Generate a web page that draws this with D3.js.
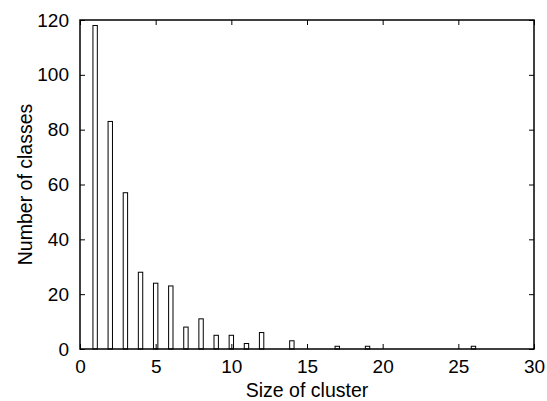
<!DOCTYPE html>
<html>
<head>
<meta charset="utf-8">
<script src="https://cdn.jsdelivr.net/npm/d3@7"></script>
<style>
  body { margin: 0; background: #fff; }
  text { font-family: "Liberation Sans", Arial, sans-serif; }
</style>
</head>
<body>
<script>
// cluster sizes and how many classes have each size
const sizes  = [1, 2, 3, 4, 5, 6, 7, 8, 9, 10, 11, 12, 14, 17, 19, 26];
const counts = [118, 83, 57, 28, 24, 23, 8, 11, 5, 5, 2, 6, 3, 1, 1, 1];
const xTicks = [0, 5, 10, 15, 20, 25, 30];
const yTicks = [0, 20, 40, 60, 80, 100, 120];

const width = 547, height = 401;
const margin = { left: 80, right: 13, top: 20, bottom: 52 };

const svg = d3.select("body").append("svg")
  .attr("width", width).attr("height", height);

const x = d3.scaleLinear().domain([0, 30])
  .range([margin.left, width - margin.right]);
const y = d3.scaleLinear().domain([0, 120])
  .range([height - margin.bottom, margin.top]);

const barW = 0.29; // in x units

// bars
svg.append("g").selectAll("rect")
  .data(sizes)
  .enter().append("rect")
  .attr("x", (d) => x(d - barW / 2))
  .attr("y", (d, i) => y(counts[i]))
  .attr("width", (d) => x(d + barW / 2) - x(d - barW / 2))
  .attr("height", (d, i) => y(0) - y(counts[i]))
  .attr("fill", "#fff")
  .attr("stroke", "#000")
  .attr("stroke-width", 1);

// axes, ticks pointing inward, mirrored on opposite sides
const tickLen = 5;
const styleAxis = (g) => {
  g.select(".domain").remove();
  g.selectAll("line").attr("stroke", "#000").attr("stroke-width", 1);
  g.selectAll("text").attr("font-size", 19).attr("fill", "#000");
};

svg.append("g")
  .attr("transform", "translate(0," + y(0) + ")")
  .call(d3.axisBottom(x).tickValues(xTicks).tickSizeInner(-tickLen).tickPadding(11))
  .call(styleAxis);

svg.append("g")
  .attr("transform", "translate(0," + y(120) + ")")
  .call(d3.axisTop(x).tickValues(xTicks).tickSizeInner(-tickLen).tickFormat(""))
  .call(styleAxis);

svg.append("g")
  .attr("transform", "translate(" + x(0) + ",0)")
  .call(d3.axisLeft(y).tickValues(yTicks).tickSizeInner(-tickLen).tickPadding(11))
  .call(styleAxis);

svg.append("g")
  .attr("transform", "translate(" + x(30) + ",0)")
  .call(d3.axisRight(y).tickValues(yTicks).tickSizeInner(-tickLen).tickFormat(""))
  .call(styleAxis);

// frame
svg.append("rect")
  .attr("x", x(0)).attr("y", y(120))
  .attr("width", x(30) - x(0)).attr("height", y(0) - y(120))
  .attr("fill", "none").attr("stroke", "#000").attr("stroke-width", 1.5);

// axis titles
svg.append("text")
  .attr("x", (x(0) + x(30)) / 2).attr("y", 397)
  .attr("text-anchor", "middle").attr("font-size", 19.5)
  .text("Size of cluster");

svg.append("text")
  .attr("transform", "translate(32," + (y(60)) + ") rotate(-90)")
  .attr("text-anchor", "middle").attr("font-size", 19.5)
  .text("Number of classes");
</script>
</body>
</html>
